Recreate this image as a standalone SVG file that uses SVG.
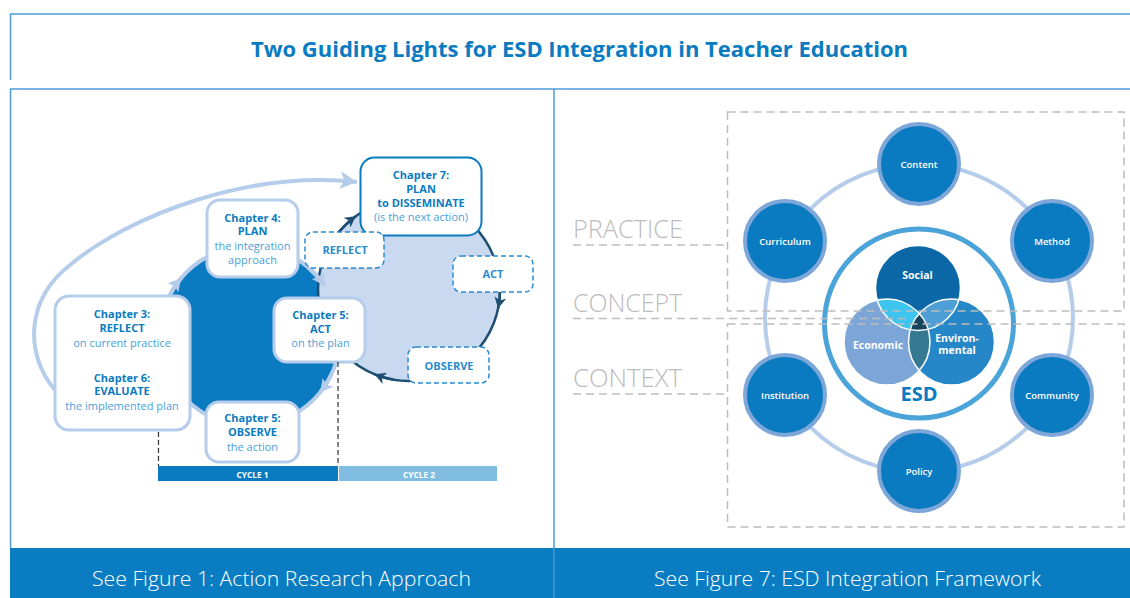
<svg xmlns="http://www.w3.org/2000/svg" width="1130" height="598" viewBox="0 0 1130 598">
<style>
.frame{stroke:#4d9ad5;stroke-width:1.5;fill:none}
.title{font-family:'Open Sans',sans-serif;font-weight:700;font-size:22px;fill:#0a7bc0;text-anchor:middle}
.hd{font-family:'Open Sans',sans-serif;font-weight:700;font-size:11px;fill:#0a7bc0;text-anchor:middle}
.sub{font-family:'Open Sans',sans-serif;font-weight:400;font-size:11px;fill:#4aa0da;text-anchor:middle}
.dl{font-family:'Open Sans',sans-serif;font-weight:700;font-size:11px;fill:#2a8bd1;text-anchor:middle}
.cyc{font-family:'Open Sans',sans-serif;font-weight:700;font-size:9px;fill:#fff;text-anchor:middle}
.lvl{font-family:'Open Sans',sans-serif;font-weight:300;font-size:25px;fill:#bcbcbc}
.nd{font-family:'Open Sans',sans-serif;font-weight:600;font-size:9.5px;fill:#fff;text-anchor:middle}
.vn{font-family:'Open Sans',sans-serif;font-weight:700;font-size:10.5px;fill:#fff;text-anchor:middle}
.esd{font-family:'Open Sans',sans-serif;font-weight:700;font-size:20px;fill:#0a7bc0;text-anchor:middle}
.foot{font-family:'Open Sans',sans-serif;font-weight:300;font-size:21px;fill:#fff;text-anchor:middle}
.lbox{fill:#fff;stroke:#b6cceb;stroke-width:3}
.dbox{fill:#fff;stroke:#2a8bd1;stroke-width:1.5;stroke-dasharray:5 3}
.gdash{fill:none;stroke:#bdbdbd;stroke-width:1.5;stroke-dasharray:8 5}
.node circle{fill:#0a7bc0;stroke:#7ea7d9;stroke-width:4}
.larc{fill:none;stroke:#b6cceb;stroke-width:4}
.narc{fill:none;stroke:#1d4f73;stroke-width:2.5}
</style>
<defs>
<marker id="la" markerUnits="userSpaceOnUse" markerWidth="14" markerHeight="14" refX="13" refY="7" orient="auto">
<path d="M0,0 L13,7 L0,14 L3,7 z" fill="#b6cceb"/>
</marker>
<marker id="lb" markerUnits="userSpaceOnUse" markerWidth="18" markerHeight="18" refX="17" refY="9" orient="auto">
<path d="M0,0 L17,9 L0,18 L4,9 z" fill="#b6cceb"/>
</marker>
<marker id="na" markerUnits="userSpaceOnUse" markerWidth="12" markerHeight="12" refX="11" refY="6" orient="auto">
<path d="M0,0 L11,6 L0,12 L3,6 z" fill="#1d4f73"/>
</marker>
<clipPath id="cSoc"><circle cx="918" cy="288" r="42.5"/></clipPath>
<clipPath id="cEco"><circle cx="887" cy="342" r="43"/></clipPath>
</defs>

<!-- frame -->
<g id="frame">
<line class="frame" x1="10" y1="14" x2="1130" y2="14"/>
<line class="frame" x1="10.5" y1="14" x2="10.5" y2="80"/>
<line class="frame" x1="10" y1="89" x2="1130" y2="89"/>
<line class="frame" x1="10.5" y1="89" x2="10.5" y2="548"/>
<line class="frame" x1="554" y1="89" x2="554" y2="548"/>
<rect x="10" y="548" width="1120" height="50" fill="#0a7cc2"/>
<line x1="554" y1="548" x2="554" y2="598" stroke="#5aa7dd" stroke-width="1"/>
</g>
<text class="title" x="579.5" y="57" textLength="657" lengthAdjust="spacingAndGlyphs">Two Guiding Lights for ESD Integration in Teacher Education</text>
<text class="foot" x="281.5" y="586" textLength="379" lengthAdjust="spacingAndGlyphs">See Figure 1: Action Research Approach</text>
<text class="foot" x="847.5" y="586" textLength="387" lengthAdjust="spacingAndGlyphs">See Figure 7: ESD Integration Framework</text>

<!-- LEFT PANEL -->
<g id="connectors-left">
<path class="larc" stroke-width="3.5" d="M55,390 C25,355 25,300 70,265 C130,215 250,170 357,182" marker-end="url(#lb)"/>
</g>
<g id="cycle1-circle"><circle cx="250" cy="336" r="90" fill="#0a7bc0" stroke="#b6cceb" stroke-width="4"/></g>
<g id="cycle2-circle"><circle cx="409" cy="290" r="91" fill="#c9d9ef" stroke="#1d4f73" stroke-width="2.5"/></g>
<g id="connectors">
<path class="narc" d="M339.3,231.5 A91,91 0 0 1 355.8,216.2" marker-end="url(#na)"/>
<path class="narc" d="M500,290 A91,91 0 0 1 498.1,308.3" marker-end="url(#na)"/>
<path class="narc" d="M393.2,379.6 A91,91 0 0 1 374.6,374.3" marker-end="url(#na)"/>
<path class="larc" d="M168.4,298 A90,90 0 0 1 181.2,278" marker-end="url(#la)"/>
<path class="larc" d="M307.9,267.1 A90,90 0 0 1 324.7,285.8" marker-end="url(#la)"/>
<path class="larc" d="M331.6,374 A90,90 0 0 1 320,392.5" marker-end="url(#la)"/>
</g>

<g id="box-ch3-6">
<rect class="lbox" x="55" y="296" width="135" height="134" rx="14"/>
<text class="hd" x="122" y="318">Chapter 3:</text>
<text class="hd" x="122" y="332">REFLECT</text>
<text class="sub" x="122" y="346.5">on current practice</text>
<text class="hd" x="122" y="381.5">Chapter 6:</text>
<text class="hd" x="122" y="395">EVALUATE</text>
<text class="sub" x="122" y="409.5">the implemented plan</text>
</g>
<g id="box-ch4">
<rect class="lbox" x="207" y="200" width="91" height="77" rx="13"/>
<text class="hd" x="252.5" y="221.5">Chapter 4:</text>
<text class="hd" x="252.5" y="235">PLAN</text>
<text class="sub" x="252.5" y="250">the integration</text>
<text class="sub" x="252.5" y="263.5">approach</text>
</g>
<g id="box-ch5-act">
<rect class="lbox" x="274" y="298" width="91" height="64" rx="13"/>
<text class="hd" x="320.5" y="318.5">Chapter 5:</text>
<text class="hd" x="320.5" y="332.5">ACT</text>
<text class="sub" x="320.5" y="347">on the plan</text>
</g>
<g id="box-ch5-observe">
<rect class="lbox" x="206" y="402" width="93" height="60" rx="13"/>
<text class="hd" x="252.5" y="422">Chapter 5:</text>
<text class="hd" x="252.5" y="436">OBSERVE</text>
<text class="sub" x="252.5" y="450.5">the action</text>
</g>
<g id="box-ch7">
<rect x="360.5" y="157.5" width="121" height="78" rx="14" fill="#fff" stroke="#0a7bc0" stroke-width="2"/>
<text class="hd" x="421" y="178.5">Chapter 7:</text>
<text class="hd" x="421" y="192.5">PLAN</text>
<text class="hd" x="421" y="206.5">to DISSEMINATE</text>
<text class="sub" x="421" y="221">(is the next action)</text>
</g>
<g id="box-reflect">
<rect class="dbox" x="305" y="232" width="79" height="36" rx="8"/>
<text class="dl" x="345" y="254">REFLECT</text>
</g>
<g id="box-act">
<rect class="dbox" x="453" y="256" width="80" height="36" rx="8"/>
<text class="dl" x="493" y="278">ACT</text>
</g>
<g id="box-observe">
<rect class="dbox" x="408" y="347" width="81" height="36" rx="8"/>
<text class="dl" x="449" y="370">OBSERVE</text>
</g>
<g id="cycles">
<line x1="158.5" y1="432" x2="158.5" y2="466" stroke="#333" stroke-width="1.2" stroke-dasharray="5 3"/>
<line x1="338" y1="362" x2="338" y2="466" stroke="#333" stroke-width="1.2" stroke-dasharray="5 3"/>
<rect x="158" y="466" width="180" height="15" fill="#0a7bc0"/>
<rect x="339" y="466" width="158" height="15" fill="#80bde0"/>
<text class="cyc" x="252.5" y="477.5" textLength="32" lengthAdjust="spacingAndGlyphs">CYCLE 1</text>
<text class="cyc" x="419" y="477.5" textLength="32" lengthAdjust="spacingAndGlyphs">CYCLE 2</text>
</g>

<!-- RIGHT PANEL -->
<g id="ring"><circle cx="919" cy="318" r="154" fill="none" stroke="#b6cceb" stroke-width="4"/></g>
<g id="esd">
<circle cx="919" cy="323.5" r="94.5" fill="#fff" stroke="#4aa3d9" stroke-width="5"/>
<circle cx="887" cy="342" r="43" fill="#7ba6d7"/>
<circle cx="951.5" cy="342" r="43" fill="#2586c8"/>
<circle cx="918" cy="288" r="42.5" fill="#0b67a5"/>
<circle cx="951.5" cy="342" r="43" fill="#357a92" clip-path="url(#cEco)"/>
<circle cx="887" cy="342" r="43" fill="#3ec5ef" clip-path="url(#cSoc)"/>
<circle cx="951.5" cy="342" r="43" fill="#4d9fd5" clip-path="url(#cSoc)"/>
<g clip-path="url(#cSoc)"><circle cx="951.5" cy="342" r="43" fill="#17455f" clip-path="url(#cEco)"/></g>
<g fill="none" stroke="#fff" stroke-width="1.5">
<circle cx="887" cy="342" r="43"/>
<circle cx="951.5" cy="342" r="43"/>
<circle cx="918" cy="288" r="42.5"/>
</g>
<text class="vn" x="917.5" y="279" font-size="11.5">Social</text>
<text class="vn" x="878" y="348.5">Economic</text>
<text class="vn" x="957" y="341.5">Environ-</text>
<text class="vn" x="957" y="354">mental</text>
<text class="esd" x="919" y="401">ESD</text>
</g>
<g id="node-content" class="node"><circle cx="919" cy="164" r="40"/><text class="nd" x="919" y="167.5">Content</text></g>
<g id="node-method" class="node"><circle cx="1052" cy="241" r="40"/><text class="nd" x="1052" y="244.5">Method</text></g>
<g id="node-curriculum" class="node"><circle cx="785" cy="241" r="40"/><text class="nd" x="785" y="245">Curriculum</text></g>
<g id="node-institution" class="node"><circle cx="785" cy="395" r="40"/><text class="nd" x="785" y="398.5">Institution</text></g>
<g id="node-community" class="node"><circle cx="1052" cy="395" r="40"/><text class="nd" x="1052" y="398.5">Community</text></g>
<g id="node-policy" class="node"><circle cx="919" cy="471" r="40"/><text class="nd" x="919" y="474.5">Policy</text></g>

<g id="levels">
<rect class="gdash" x="727.5" y="112" width="396.5" height="199"/>
<rect class="gdash" x="727.5" y="324" width="396.5" height="203"/>
<path class="gdash" d="M573,245 H727.5"/>
<path class="gdash" d="M573,318.5 H907"/>
<path class="gdash" d="M573,394 H727.5"/>
<text class="lvl" x="573" y="237.5" textLength="110" lengthAdjust="spacingAndGlyphs">PRACTICE</text>
<text class="lvl" x="573" y="311.5" textLength="109" lengthAdjust="spacingAndGlyphs">CONCEPT</text>
<text class="lvl" x="573" y="386.5" textLength="109" lengthAdjust="spacingAndGlyphs">CONTEXT</text>
</g>
</svg>
